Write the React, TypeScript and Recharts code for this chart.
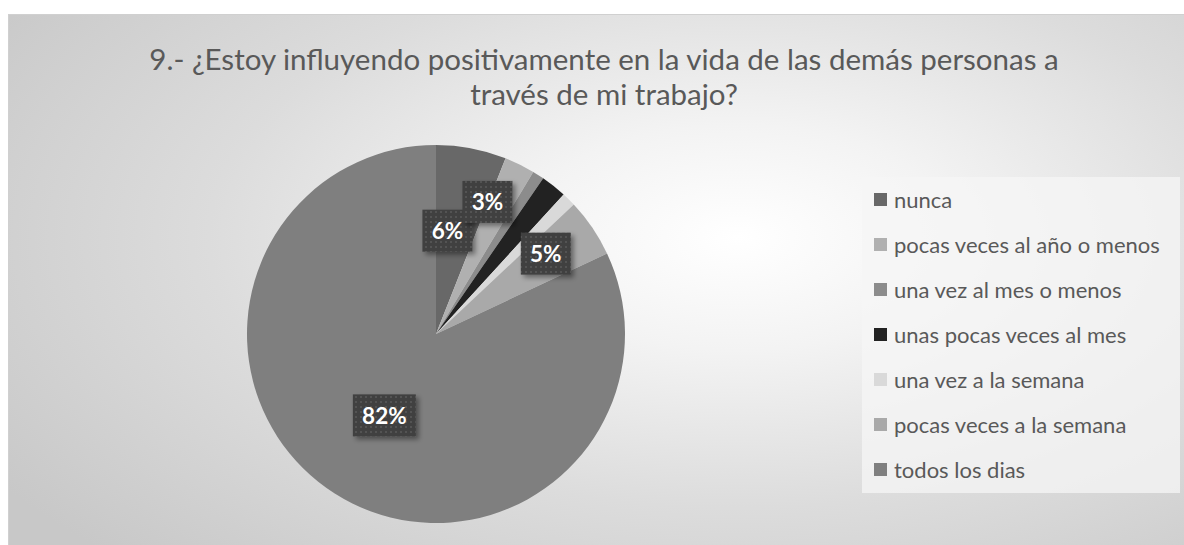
import { PieChart, Pie, Cell, Legend } from 'recharts';

const categories = [
  'nunca',
  'pocas veces al año o menos',
  'una vez al mes o menos',
  'unas pocas veces al mes',
  'una vez a la semana',
  'pocas veces a la semana',
  'todos los dias',
];
const values = [6, 2.6, 1, 2.2, 1.2, 5, 82];
const showLabel = [true, true, false, false, false, true, true];
const colors = ['#686868', '#b0b0b0', '#8c8c8c', '#222222', '#d9d9d9', '#a9a9a9', '#7f7f7f'];
// label placement: radius as fraction of outerRadius, angular shift in degrees (counter-clockwise)
const labelPlace = [
  { r: 0.55, shift: 4.5 },
  { r: 0.75, shift: 5 },
  { r: 0.7, shift: 0 },
  { r: 0.7, shift: 0 },
  { r: 0.7, shift: 0 },
  { r: 0.72, shift: 2 },
  { r: 0.51, shift: 0 },
];

const data = categories.map((name, i) => ({ name, value: values[i] }));
const RAD = Math.PI / 180;
const FONT = 'Lato, "Open Sans", sans-serif';

function renderLabel(props: any) {
  const { cx, cy, midAngle, outerRadius, index, percent } = props;
  if (!showLabel[index]) return null;
  const p = labelPlace[index];
  const a = midAngle + p.shift;
  const r = outerRadius * p.r;
  const x = cx + r * Math.cos(-a * RAD);
  const y = cy + r * Math.sin(-a * RAD);
  const text = `${Math.round(percent * 100)}%`;
  const w = text.length > 2 ? 63 : 50;
  const h = 42;
  return (
    <g key={`lbl-${index}`}>
      <defs>
        <pattern id={`dots-${index}`} width="5" height="5" patternUnits="userSpaceOnUse">
          <rect width="5" height="5" fill="#404040" />
          <rect x="1" y="1" width="2" height="2" fill="#525252" />
        </pattern>
        <filter id={`sh-${index}`} x="-30%" y="-30%" width="160%" height="160%">
          <feDropShadow dx="3" dy="3" stdDeviation="2.5" floodColor="#000" floodOpacity="0.4" />
        </filter>
      </defs>
      <rect x={x - w / 2} y={y - h / 2} width={w} height={h} fill={`url(#dots-${index})`} filter={`url(#sh-${index})`} />
      <text x={x} y={y} fill="#ffffff" textAnchor="middle" dominantBaseline="central" fontFamily={FONT} fontWeight="bold" fontSize={22.5}>
        {text}
      </text>
    </g>
  );
}

function LegendBox() {
  return (
    <div style={{ background: 'rgba(245,245,245,0.75)', width: 318, height: 316, boxSizing: 'border-box' }}>
      {categories.map((name, i) => (
        <div key={name} style={{ display: 'flex', alignItems: 'center', height: 45, paddingLeft: 12 }}>
          <span style={{ width: 13, height: 13, background: colors[i], display: 'inline-block', marginRight: 7 }} />
          <span style={{ fontFamily: FONT, fontSize: 22, color: '#595959', whiteSpace: 'nowrap' }}>{name}</span>
        </div>
      ))}
    </div>
  );
}

export default function App() {
  return (
    <div
      style={{
        position: 'absolute',
        left: 8,
        top: 14,
        width: 1176,
        height: 531,
        borderTop: '1px solid #d0d0d0',
        borderLeft: '1px solid #d0d0d0',
        boxSizing: 'border-box',
        background: 'radial-gradient(ellipse 75% 85% at 62% 42%, #ffffff 0%, #f3f3f3 25%, #dcdcdc 60%, #c8c8c8 100%)',
        overflow: 'hidden',
      }}
    >
      <div
        style={{
          position: 'absolute',
          left: 0,
          top: 26,
          width: 1190,
          textAlign: 'center',
          fontFamily: FONT,
          fontSize: 29.5,
          lineHeight: '35px',
          color: '#595959',
        }}
      >
        9.- ¿Estoy influyendo positivamente en la vida de las demás personas a
        <br />
        través de mi trabajo?
      </div>
      <PieChart width={1175} height={530} margin={{ top: 0, right: 0, bottom: 0, left: 0 }}>
        <Pie
          data={data}
          dataKey="value"
          nameKey="name"
          cx={427}
          cy={319}
          outerRadius={189}
          startAngle={90}
          endAngle={-270}
          stroke="none"
          label={renderLabel}
          labelLine={false}
          isAnimationActive={false}
        >
          {data.map((d, i) => (
            <Cell key={d.name} fill={colors[i]} />
          ))}
        </Pie>
        <Legend
          layout="vertical"
          content={<LegendBox />}
          wrapperStyle={{ position: 'absolute', left: 853, top: 162, width: 318, height: 316 }}
        />
      </PieChart>
    </div>
  );
}
